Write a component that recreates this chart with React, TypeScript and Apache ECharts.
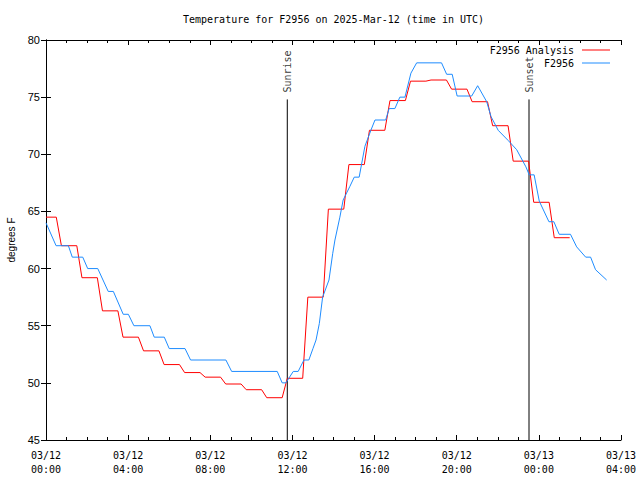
import React, { useEffect, useRef } from "react";
import * as echarts from "echarts";

// Hourly analysis values (hours after 03/12 00:00 UTC)
const analysisTemps = [64.5, 62.0, 59.2, 56.3, 54.0, 52.8, 51.6, 50.9, 50.5, 49.9, 49.4, 48.7, 50.4, 57.5, 65.2, 69.1, 72.1, 74.7, 76.4, 76.5, 75.7, 74.6, 72.5, 69.4, 65.8, 62.7];

// Observations: time (hours after 03/12 00:00 UTC) and temperature (°F)
const obsHours = [0.00, 0.49, 1.09, 1.28, 1.79, 2.03, 2.52, 3.03, 3.28, 3.76, 4.01, 4.28, 5.06, 5.27, 5.76, 6.00, 6.77, 7.04, 8.76, 9.04, 11.26, 11.50, 11.68, 12.04, 12.28, 12.56, 12.80, 13.00, 13.15, 13.31, 13.47, 13.78, 13.96, 14.07, 14.31, 14.47, 14.80, 15.01, 15.25, 15.53, 15.82, 16.02, 16.54, 16.71, 16.99, 17.23, 17.48, 17.77, 18.05, 19.26, 19.51, 19.78, 20.02, 20.73, 21.02, 21.46, 21.67, 22.02, 22.51, 22.92, 23.37, 23.53, 23.77, 24.02, 24.49, 24.73, 24.99, 25.54, 25.84, 26.28, 26.52, 26.76, 27.30];
const obsTemps = [64, 62, 62, 61, 61, 60, 60, 58, 58, 56, 56, 55, 55, 54, 54, 53, 53, 52, 52, 51, 51, 50, 50, 51, 51, 52, 52, 53, 53.75, 55.2, 57.5, 59, 61.3, 62.5, 64.5, 66, 67.2, 68, 68, 70.7, 72.1, 73, 73, 74, 74, 75, 75, 77.1, 78, 78, 77, 77, 75.1, 75.1, 76, 74.6, 73.3, 72.1, 71.2, 70.4, 68.9, 68.2, 68.2, 65.9, 64.1, 64.1, 63, 63, 61.9, 61, 61, 59.9, 59];

// Sun events
const eventNames = ["Sunrise", "Sunset"];
const eventHours = [11.75, 23.52];

const seriesNames = ["F2956 Analysis", "F2956"];
const titleText = "Temperature for F2956 on 2025-Mar-12 (time in UTC)";
const yName = "degrees F";

const X_MIN = 0;
const X_MAX = 28;
const Y_MIN = 45;
const Y_MAX = 80;
const EVENT_LINE_TOP = 74.8;
const EVENT_LABEL_AT = 75.4;

const MONO = "'DejaVu Sans Mono', monospace";
const SANS = "'Liberation Sans', Arial, sans-serif";

function fmtX(v: number) {
  const day = v < 24 ? "03/12" : "03/13";
  const hh = String(Math.round(v) % 24).padStart(2, "0");
  return `${day}\n${hh}:00`;
}

export default function App() {
  const ref = useRef<HTMLDivElement>(null);
  useEffect(() => {
    if (!ref.current) return;
    const chart = echarts.init(ref.current, undefined, { renderer: "svg" });

    const analysisData: number[][] = [];
    analysisTemps.forEach((v, k) => {
      analysisData.push([Math.max(X_MIN, k - 0.25), v]);
      analysisData.push([k + 0.5, v]);
    });
    const obsData = obsHours.map((h, i) => [h, obsTemps[i]]);

    const axisLine = { show: true, lineStyle: { color: "#000", width: 1 } };

    const eventLineSeries = eventHours.map((h, i) => ({
      name: eventNames[i],
      type: "line",
      data: [[h, Y_MIN], [h, EVENT_LINE_TOP]],
      showSymbol: false,
      silent: true,
      lineStyle: { color: "#000", width: 1 },
      z: 1,
    }));

    chart.setOption({
      animation: false,
      backgroundColor: "#fff",
      title: {
        text: titleText,
        left: 178,
        top: 9,
        textStyle: { fontFamily: MONO, fontSize: 10, fontWeight: "normal", color: "#000" },
      },
      legend: {
        data: seriesNames,
        orient: "vertical",
        align: "right",
        right: 25,
        top: 40,
        itemGap: 3,
        itemWidth: 28,
        itemHeight: 1,
        icon: "rect",
        textStyle: { fontFamily: MONO, fontSize: 10, color: "#000", padding: [0, 3, 0, 0] },
      },
      grid: { left: 46, right: 19, top: 40, bottom: 40, containLabel: false, outerBoundsMode: "none" },
      xAxis: [
        {
          type: "value",
          min: X_MIN,
          max: X_MAX,
          interval: 4,
          axisLine,
          axisTick: { show: true, inside: true, length: 5, lineStyle: { color: "#000" } },
          minorTick: { show: true, splitNumber: 4, length: 3, lineStyle: { color: "#000" } },
          splitLine: { show: false },
          axisLabel: {
            formatter: fmtX,
            fontFamily: MONO,
            fontSize: 10,
            lineHeight: 14,
            color: "#000",
            margin: 8,
          },
        },
        {
          type: "value",
          position: "top",
          min: X_MIN,
          max: X_MAX,
          interval: 4,
          axisLine,
          axisTick: { show: true, inside: true, length: 5, lineStyle: { color: "#000" } },
          minorTick: { show: true, splitNumber: 4, length: 3, lineStyle: { color: "#000" } },
          splitLine: { show: false },
          axisLabel: { show: false },
        },
      ],
      yAxis: [
        {
          type: "value",
          min: Y_MIN,
          max: Y_MAX,
          interval: 5,
          name: yName,
          nameLocation: "middle",
          nameRotate: 90,
          nameGap: 29,
          nameTextStyle: { fontFamily: SANS, fontSize: 10, color: "#000" },
          axisLine,
          axisTick: { show: true, inside: true, length: 5, lineStyle: { color: "#000" } },
          splitLine: { show: false },
          axisLabel: { fontFamily: SANS, fontSize: 11, color: "#000", margin: 6 },
        },
        {
          type: "value",
          position: "right",
          min: Y_MIN,
          max: Y_MAX,
          interval: 5,
          axisLine,
          axisTick: { show: true, inside: true, length: 5, lineStyle: { color: "#000" } },
          splitLine: { show: false },
          axisLabel: { show: false },
        },
      ],
      series: [
        {
          name: seriesNames[0],
          type: "line",
          data: analysisData,
          showSymbol: false,
          color: "#ff0000",
          lineStyle: { color: "#ff0000", width: 1 },
          z: 3,
        },
        {
          name: seriesNames[1],
          type: "line",
          data: obsData,
          showSymbol: false,
          color: "#1e8cff",
          lineStyle: { color: "#1e8cff", width: 1 },
          z: 4,
        },
        ...eventLineSeries,
        {
          name: "events",
          type: "scatter",
          symbolSize: 1,
          silent: true,
          itemStyle: { color: "transparent" },
          data: eventHours.map((h, i) => ({ name: eventNames[i], value: [h, EVENT_LABEL_AT] })),
          label: {
            show: true,
            formatter: (p: any) => p.name,
            position: "inside",
            align: "left",
            verticalAlign: "middle",
            rotate: 90,
            fontFamily: MONO,
            fontSize: 10,
            color: "#000",
          },
        },
      ],
    });
    return () => chart.dispose();
  }, []);
  return (
    <div
      ref={ref}
      style={{ position: "absolute", left: 0, top: 0, width: 640, height: 480 }}
    />
  );
}
